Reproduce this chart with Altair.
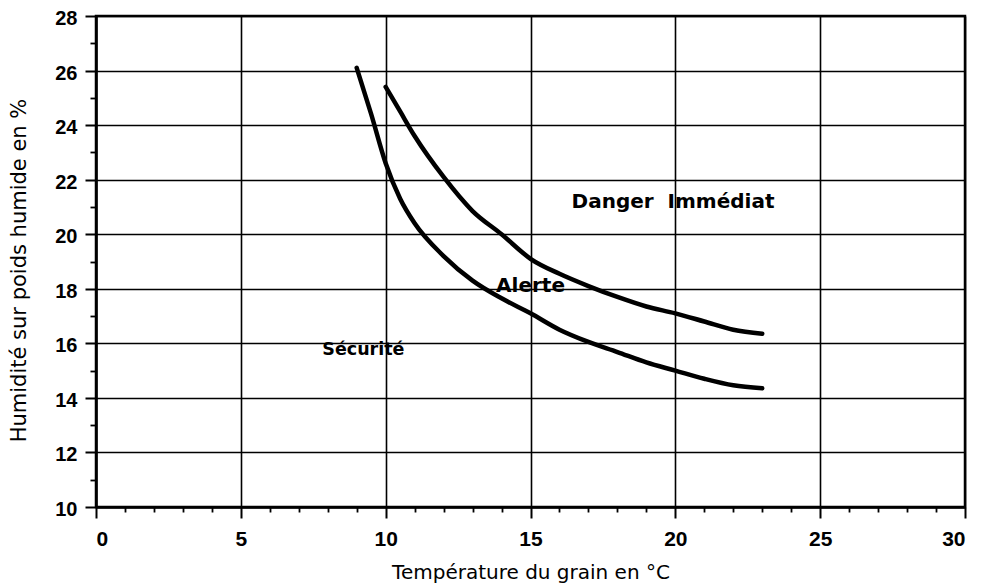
import altair as alt
import pandas as pd

# Curves
upper_x = [10, 10.5, 11, 12, 13, 14, 15, 16, 17, 18, 19, 20, 21, 22, 23]
upper_y = [25.4, 24.5, 23.6, 22.1, 20.85, 20.0, 19.1, 18.55, 18.1, 17.7, 17.35, 17.1, 16.8, 16.5, 16.35]
lower_x = [9, 9.5, 10, 10.5, 11, 12, 13, 14, 15, 16, 17, 18, 19, 20, 21, 22, 23]
lower_y = [26.1, 24.4, 22.6, 21.3, 20.4, 19.2, 18.3, 17.65, 17.1, 16.5, 16.05, 15.68, 15.3, 15.0, 14.7, 14.46, 14.35]

zone_labels = ["Danger\u00a0\u00a0Immédiat", "Alerte", "Sécurité"]
zone_x = [19.92, 15.0, 9.23]
zone_y = [21.17, 18.1, 15.77]

x_ticks = list(range(0, 31))
y_ticks = list(range(10, 29))

curves = pd.DataFrame({
    "t": upper_x + lower_x,
    "h": upper_y + lower_y,
    "curve": ["haut"] * len(upper_x) + ["bas"] * len(lower_x),
})
zones = pd.DataFrame({"t": zone_x, "h": zone_y, "label": zone_labels})

x_scale = alt.Scale(domain=[0, 30], nice=False, zero=False)
y_scale = alt.Scale(domain=[10, 28], nice=False, zero=False)

x_axis = alt.Axis(
    values=x_ticks,
    labelExpr="datum.value % 5 === 0 ? datum.label : ''",
    labelOverlap=False,
    title="Température du grain en °C",
    labelFont="Liberation Sans", labelFontWeight="bold", labelFontSize=21,
    labelColor="black", labelPadding=10,
    titleFont="DejaVu Sans", titleFontWeight="normal", titleFontSize=20,
    titleColor="black", titleBaseline="alphabetic", titleY=71,
    tickColor="black",
    tickSize={"condition": {"test": "datum.value % 5 === 0", "value": 11}, "value": 5},
    tickWidth={"condition": {"test": "datum.value % 5 === 0", "value": 2}, "value": 1.8},
    grid=True, gridColor="black",
    gridOpacity={"condition": {"test": "datum.value % 5 === 0", "value": 1}, "value": 0},
    gridWidth=1.6,
    domainColor="black", domainWidth=2.5,
)
y_axis = alt.Axis(
    values=y_ticks,
    labelExpr="datum.value % 2 === 0 ? datum.label : ''",
    labelOverlap=False,
    labelOffset=2.5,
    title="Humidité sur poids humide en %",
    labelFont="Liberation Sans", labelFontWeight="bold", labelFontSize=20,
    labelColor="black", labelPadding=8,
    titleFont="DejaVu Sans", titleFontWeight="normal", titleFontSize=21,
    titleColor="black", titleAngle=270, titleBaseline="alphabetic",
    titleX=-71, titleY=254, titleAlign="center",
    tickColor="black",
    tickSize={"condition": {"test": "datum.value % 2 === 0", "value": 11}, "value": 6},
    tickWidth={"condition": {"test": "datum.value % 2 === 0", "value": 2}, "value": 1.8},
    grid=True, gridColor="black",
    gridOpacity={"condition": {"test": "datum.value % 2 === 0", "value": 1}, "value": 0},
    gridWidth=1.6,
    domainColor="black", domainWidth=2.5,
)

lines = alt.Chart(curves).mark_line(
    color="black", strokeWidth=4.5, interpolate="monotone", strokeCap="round"
).encode(
    x=alt.X("t:Q", scale=x_scale, axis=x_axis),
    y=alt.Y("h:Q", scale=y_scale, axis=y_axis),
    detail="curve:N",
)

base_text = alt.Chart(zones).encode(
    x=alt.X("t:Q", scale=x_scale, axis=x_axis),
    y=alt.Y("h:Q", scale=y_scale, axis=y_axis),
    text="label:N",
)
texts_big = base_text.transform_filter(
    alt.datum.label != "Sécurité"
).mark_text(
    font="DejaVu Sans", fontWeight="bold", fontSize=20, color="black",
    align="center", baseline="middle",
)
texts_small = base_text.transform_filter(
    alt.datum.label == "Sécurité"
).mark_text(
    font="DejaVu Sans", fontWeight="bold", fontSize=17.5, color="black",
    align="center", baseline="middle",
)

chart = alt.layer(lines, texts_big, texts_small).properties(
    width=869, height=491,
    autosize=alt.AutoSizeParams(type="none"),
    padding={"left": 88, "top": 8, "right": 8, "bottom": 78},
    background="white",
).configure_view(
    stroke="black", strokeWidth=2.5,
)

chart.save("out.html", embed_options={"renderer": "svg", "actions": False})
